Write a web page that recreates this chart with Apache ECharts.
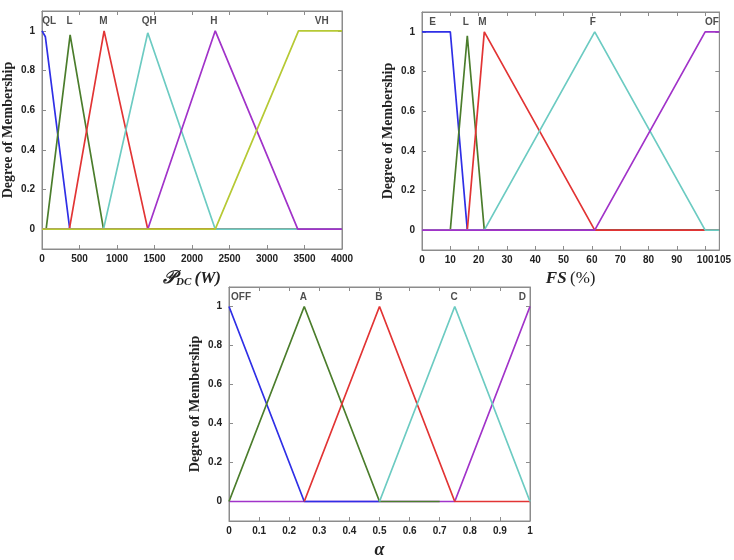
<!DOCTYPE html>
<html>
<head>
<meta charset="utf-8">
<style>
  html, body { margin: 0; padding: 0; background: #fff; }
  #main { width: 734px; height: 560px; }
</style>
<script src="https://cdn.jsdelivr.net/npm/echarts@6/dist/echarts.min.js"></script>
</head>
<body>
<div id="main"></div>
<script>
// ---- P_DC (W) membership functions ----
const pdcNames = ['QL', 'L', 'M', 'QH', 'H', 'VH'];
const pdcQL = [[0, 1], [20, 1], [45, 0.97], [370, 0], [4000, 0]];
const pdcL  = [[0, 0], [55, 0], [375, 0.98], [820, 0], [4000, 0]];
const pdcM  = [[0, 0], [365, 0], [828, 1], [1410, 0], [4000, 0]];
const pdcQH = [[0, 0], [820, 0], [1410, 0.99], [2310, 0], [4000, 0]];
const pdcH  = [[0, 0], [1410, 0], [2310, 1], [3410, 0], [4000, 0]];
const pdcVH = [[0, 0], [2310, 0], [3420, 1], [4000, 1]];
const pdcLabelAt = [95, 368, 818, 1430, 2292, 3730];
const pdcTicks = [0, 500, 1000, 1500, 2000, 2500, 3000, 3500, 4000];

// ---- FS (%) membership functions ----
const fsNames = ['E', 'L', 'M', 'F', 'OF'];
const fsE  = [[0, 1], [10, 1], [16, 0], [105, 0]];
const fsL  = [[0, 0], [10, 0], [16, 0.98], [22, 0], [105, 0]];
const fsM  = [[0, 0], [16, 0], [22, 1], [61, 0], [105, 0]];
const fsF  = [[0, 0], [22, 0], [61, 1], [100, 0], [105, 0]];
const fsOF = [[0, 0], [61, 0], [100, 1], [105, 1]];
const fsLabelAt = [3.7, 15.5, 21.3, 60.3, 102.4];
const fsTicks = [0, 10, 20, 30, 40, 50, 60, 70, 80, 90, 100, 105];

// ---- alpha membership functions ----
const alNames = ['OFF', 'A', 'B', 'C', 'D'];
const alOFF = [[0, 1], [0.25, 0], [0.5, 0]];
const alA   = [[0, 0], [0.25, 1], [0.5, 0], [0.7, 0]];
const alB   = [[0.25, 0], [0.5, 1], [0.75, 0], [1, 0]];
const alC   = [[0.5, 0], [0.75, 1], [1, 0]];
const alD   = [[0, 0], [0.75, 0], [1, 1]];
const alLabelAt = [0.04, 0.247, 0.498, 0.748, 0.975];
const alTicks = [0, 0.1, 0.2, 0.3, 0.4, 0.5, 0.6, 0.7, 0.8, 0.9, 1];

const yTicks = [0, 0.2, 0.4, 0.6, 0.8, 1];
const labelY = 1.05;

const C = {
  blue: '#2f2fe6', green: '#4b7d2c', red: '#e23434',
  cyan: '#6ccbc2', purple: '#a133c9', olive: '#b6c934'
};

const boxColor = '#8c8c8c';
const tickFont = { fontFamily: 'Liberation Sans', fontWeight: 'bold', fontSize: 10, color: '#222' };
const yTitle = 'Degree of Membership';

const grids = [
  { left: 41, top: 11, width: 301, height: 238 },
  { left: 422, top: 12, width: 300, height: 238 },
  { left: 229, top: 287, width: 301, height: 236 }
];

const xAxes = [];
const yAxes = [];
const series = [];

// plain numbers, last label of a crowded axis nudged right like the original
function xLabel(v) {
  if (v === 105) return '{n|105}';
  return String(v);
}

function addPanel(gi, xMax, ticks, xName, xNameRich, curves, names, labelAt) {
  const xi = xAxes.length;
  const yi = yAxes.length;
  const tick = function (vals) {
    return { show: true, inside: true, length: 4, customValues: vals, lineStyle: { color: boxColor, width: 1 } };
  };
  const line = function () {
    return { show: true, onZero: false, lineStyle: { color: boxColor, width: 1 } };
  };
  xAxes.push({
    type: 'value', gridIndex: gi, min: 0, max: xMax, position: 'bottom',
    axisLine: line(), splitLine: { show: false },
    axisTick: tick(ticks),
    axisLabel: Object.assign({
      customValues: ticks, margin: 5, formatter: xLabel,
      showMinLabel: true, showMaxLabel: true,
      rich: { n: Object.assign({ width: 10, align: 'left' }, tickFont) }
    }, tickFont),
    name: xName, nameLocation: 'middle', nameGap: 20,
    nameTextStyle: { rich: xNameRich }
  });
  xAxes.push({
    type: 'value', gridIndex: gi, min: 0, max: xMax, position: 'top',
    axisLine: line(), splitLine: { show: false },
    axisTick: tick(ticks),
    axisLabel: { show: false }
  });
  yAxes.push({
    type: 'value', gridIndex: gi, min: -0.1, max: 1.1, position: 'left',
    axisLine: line(), splitLine: { show: false },
    axisTick: tick(yTicks),
    axisLabel: Object.assign({ customValues: yTicks, margin: 7, formatter: String }, tickFont),
    name: yTitle, nameLocation: 'middle', nameGap: 27,
    nameTextStyle: { fontFamily: 'Liberation Serif', fontWeight: 'bold', fontSize: 14, color: '#222' }
  });
  yAxes.push({
    type: 'value', gridIndex: gi, min: -0.1, max: 1.1, position: 'right',
    axisLine: line(), splitLine: { show: false },
    axisTick: tick(yTicks),
    axisLabel: { show: false }
  });
  curves.forEach(function (c) {
    series.push({
      type: 'line', xAxisIndex: xi, yAxisIndex: yi, data: c.data,
      showSymbol: false, silent: true, animation: false,
      lineStyle: { color: c.color, width: 1.7 }
    });
  });
  series.push({
    type: 'scatter', xAxisIndex: xi, yAxisIndex: yi, symbolSize: 0, silent: true,
    animation: false,
    data: names.map(function (n, i) { return { name: n, value: [labelAt[i], labelY] }; }),
    label: {
      show: true, position: 'inside', formatter: '{b}',
      fontFamily: 'Liberation Sans', fontWeight: 'bold', fontSize: 10, color: '#222'
    }
  });
}

addPanel(0, 4000, pdcTicks, '{p|𝒫}{s|DC} {w|(W)}', {
  p: { fontFamily: 'DejaVu Serif', fontStyle: 'italic', fontWeight: 'bold', fontSize: 18, color: '#222' },
  s: { fontFamily: 'Liberation Serif', fontStyle: 'italic', fontWeight: 'bold', fontSize: 11, color: '#222', padding: [8, 0, 0, 0] },
  w: { fontFamily: 'Liberation Serif', fontStyle: 'italic', fontWeight: 'bold', fontSize: 17, color: '#222' }
}, [
  { data: pdcQL, color: C.blue }, { data: pdcL, color: C.green },
  { data: pdcM, color: C.red }, { data: pdcQH, color: C.cyan },
  { data: pdcH, color: C.purple }, { data: pdcVH, color: C.olive }
], pdcNames, pdcLabelAt);

addPanel(1, 105, fsTicks, '{a|FS} {b|(%)}', {
  a: { fontFamily: 'Liberation Serif', fontStyle: 'italic', fontWeight: 'bold', fontSize: 17, color: '#222' },
  b: { fontFamily: 'Liberation Serif', fontSize: 17, color: '#222' }
}, [
  { data: fsE, color: C.blue }, { data: fsL, color: C.green },
  { data: fsM, color: C.red }, { data: fsF, color: C.cyan },
  { data: fsOF, color: C.purple }
], fsNames, fsLabelAt);

addPanel(2, 1, alTicks, '{a|α}', {
  a: { fontFamily: 'Liberation Serif', fontStyle: 'italic', fontWeight: 'bold', fontSize: 18, color: '#222' }
}, [
  { data: alD, color: C.purple }, { data: alOFF, color: C.blue },
  { data: alA, color: C.green }, { data: alB, color: C.red },
  { data: alC, color: C.cyan }
], alNames, alLabelAt);

const chart = echarts.init(document.getElementById('main'), null, { renderer: 'canvas' });
chart.setOption({
  backgroundColor: '#fff',
  animation: false,
  grid: grids.map(function (g) {
    return Object.assign({ show: true, borderColor: boxColor, borderWidth: 1, backgroundColor: 'transparent' }, g);
  }),
  xAxis: xAxes,
  yAxis: yAxes,
  series: series
});
</script>
</body>
</html>
